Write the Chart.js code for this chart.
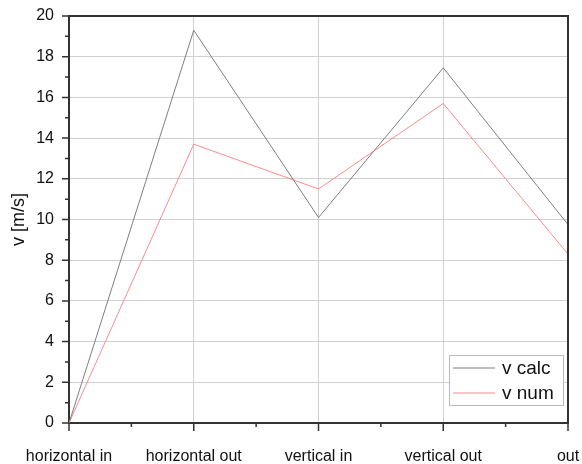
<!DOCTYPE html>
<html>
<head>
<meta charset="utf-8">
<script src="https://cdn.jsdelivr.net/npm/chart.js@4"></script>
<style>
  html, body { margin: 0; padding: 0; background: #fff; }
  #wrap { width: 582px; height: 464px; }
</style>
</head>
<body>
<div id="wrap"><canvas id="velChart" width="582" height="464"></canvas></div>
<script>
// categories along the x axis
const categories = ['horizontal in', 'horizontal out', 'vertical in', 'vertical out', 'out'];
// series
const vCalc = [0, 19.3, 10.1, 17.45, 9.75];
const vNum  = [0, 13.7, 11.5, 15.7, 8.3];
const yTicks = [0, 2, 4, 6, 8, 10, 12, 14, 16, 18, 20];

const FONT = 'Liberation Sans, Arial, sans-serif';

// axis ticks outside the box + the top/right frame
const frameTicks = {
  id: 'frameTicks',
  afterDraw(chart) {
    const ctx = chart.ctx;
    const a = chart.chartArea;
    const xs = chart.scales.x, ys = chart.scales.y;
    ctx.save();
    ctx.strokeStyle = '#333';
    ctx.lineWidth = 2;
    ctx.beginPath();
    ctx.moveTo(a.left, a.top); ctx.lineTo(a.right, a.top); ctx.lineTo(a.right, a.bottom);
    ctx.stroke();
    ctx.lineWidth = 1.5;
    ctx.beginPath();
    for (let v = 0; v <= 4; v += 0.5) {
      const px = xs.getPixelForValue(v);
      const len = Number.isInteger(v) ? 8 : 4;
      ctx.moveTo(px, a.bottom); ctx.lineTo(px, a.bottom + len);
    }
    for (let v = 0; v <= 20; v += 1) {
      const py = ys.getPixelForValue(v);
      const len = v % 2 === 0 ? 7 : 4;
      ctx.moveTo(a.left, py); ctx.lineTo(a.left - len, py);
    }
    ctx.stroke();
    ctx.restore();
  }
};

// legend box in the lower right corner
const boxLegend = {
  id: 'boxLegend',
  afterDraw(chart) {
    const ctx = chart.ctx;
    const a = chart.chartArea;
    const x = a.right - 119, y = a.bottom - 68, w = 114, h = 50;
    ctx.save();
    ctx.fillStyle = '#fff';
    ctx.fillRect(x, y, w, h);
    ctx.strokeStyle = '#bbb';
    ctx.lineWidth = 1;
    ctx.strokeRect(x + 0.5, y + 0.5, w, h);
    ctx.font = '19px ' + FONT;
    ctx.textBaseline = 'middle';
    chart.data.datasets.forEach((ds, i) => {
      const ly = y + 13 + i * 25;
      ctx.strokeStyle = ds.borderColor;
      ctx.beginPath();
      ctx.moveTo(x + 4, ly); ctx.lineTo(x + 46, ly);
      ctx.stroke();
      ctx.fillStyle = '#111';
      ctx.fillText(ds.label, x + 53, ly + 1);
    });
    ctx.restore();
  }
};

const toPoints = arr => arr.map((v, i) => ({ x: i, y: v }));

new Chart(document.getElementById('velChart'), {
  type: 'line',
  data: {
    datasets: [
      { label: 'v calc', data: toPoints(vCalc), borderColor: '#7f7f7f', borderWidth: 1, pointRadius: 0, fill: false, tension: 0 },
      { label: 'v num', data: toPoints(vNum), borderColor: '#ff8a8a', borderWidth: 1, pointRadius: 0, fill: false, tension: 0 }
    ]
  },
  options: {
    responsive: false,
    animation: false,
    layout: { padding: { top: 16, right: 14, left: 0, bottom: 0 } },
    plugins: { legend: { display: false }, tooltip: { enabled: false } },
    scales: {
      x: {
        type: 'linear', min: 0, max: 4,
        afterFit: s => { s.height = 41; s.paddingLeft = 0; s.paddingRight = 0; },
        afterBuildTicks: s => { s.ticks = categories.map((c, i) => ({ value: i })); },
        ticks: {
          callback: v => categories[v],
          maxRotation: 0, autoSkip: false, padding: 24,
          color: '#111', font: { family: FONT, size: 16 }
        },
        grid: { color: '#d0d0d0', lineWidth: 1, drawTicks: false },
        border: { display: true, color: '#333', width: 2 }
      },
      y: {
        min: 0, max: 20,
        afterFit: s => { s.width = 69; s.paddingTop = 0; s.paddingBottom = 0; },
        afterBuildTicks: s => { s.ticks = yTicks.map(v => ({ value: v })); },
        ticks: { padding: 15, color: '#111', font: { family: FONT, size: 16 } },
        grid: { color: '#d0d0d0', lineWidth: 1, drawTicks: false },
        border: { display: true, color: '#333', width: 2 },
        title: { display: true, text: 'v [m/s]', color: '#111', font: { family: FONT, size: 18 }, padding: { top: 8, bottom: 0 } }
      }
    }
  },
  plugins: [frameTicks, boxLegend]
});
</script>
</body>
</html>
